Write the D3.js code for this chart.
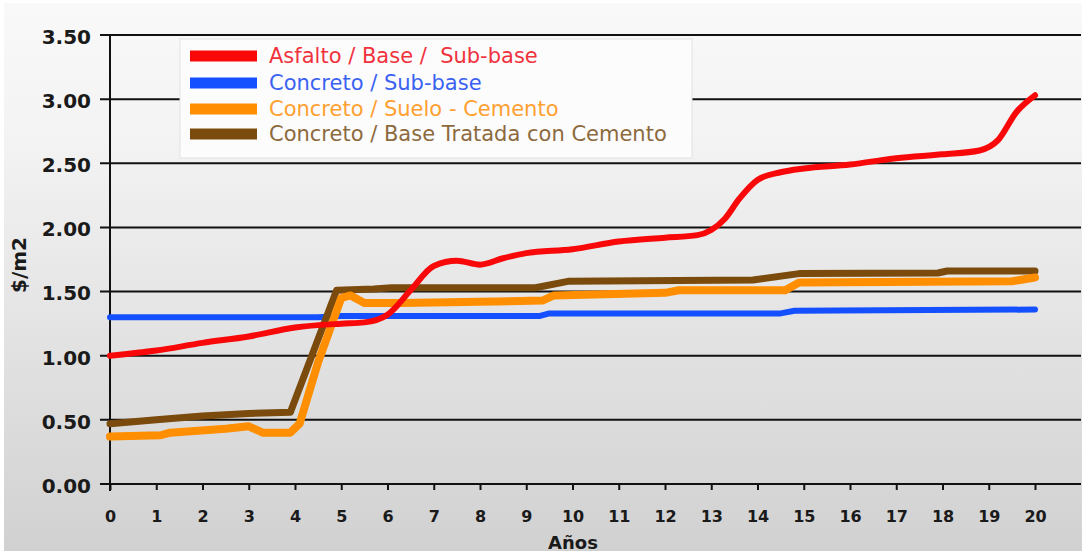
<!DOCTYPE html>
<html>
<head>
<meta charset="utf-8">
<script src="https://cdn.jsdelivr.net/npm/d3@7"></script>
<style>
  html, body { margin: 0; padding: 0; background: #ffffff; }
  svg { display: block; }
  text { font-family: "DejaVu Sans", Verdana, sans-serif; }
</style>
</head>
<body>
<script>
// ---------------- DATA ----------------
const yearTicks = d3.range(0, 21);
const valueTicks = [0, 0.5, 1.0, 1.5, 2.0, 2.5, 3.0, 3.5];

const seriesNames = [
  "Asfalto / Base /  Sub-base",
  "Concreto / Sub-base",
  "Concreto / Suelo - Cemento",
  "Concreto / Base Tratada con Cemento"
];

const asfaltoYears  = [0, 1, 2, 3, 4, 5, 5.5, 6, 6.5, 7, 7.5, 8, 8.5, 9, 10, 11, 12, 12.7, 13, 13.3, 13.6, 14, 14.5, 15, 16, 17, 18, 18.8, 19.2, 19.6, 20];
const asfaltoValues = [1.00, 1.04, 1.10, 1.15, 1.22, 1.25, 1.26, 1.32, 1.51, 1.70, 1.74, 1.71, 1.76, 1.80, 1.83, 1.89, 1.92, 1.94, 1.98, 2.07, 2.22, 2.37, 2.43, 2.46, 2.49, 2.54, 2.57, 2.60, 2.68, 2.90, 3.03];

const subbaseYears  = [0, 4.5, 5, 9.3, 9.5, 14.5, 14.8, 20];
const subbaseValues = [1.30, 1.30, 1.31, 1.31, 1.33, 1.33, 1.35, 1.36];

const sueloYears  = [0, 1.1, 1.3, 2.5, 3, 3.3, 3.9, 4.1, 4.5, 5.0, 5.2, 5.5, 6.3, 9.35, 9.6, 12, 12.3, 14.6, 14.9, 19.5, 20];
const sueloValues = [0.37, 0.38, 0.40, 0.43, 0.45, 0.40, 0.40, 0.47, 0.95, 1.45, 1.47, 1.41, 1.41, 1.43, 1.47, 1.49, 1.51, 1.51, 1.57, 1.58, 1.61];

const tratadaYears  = [0, 1, 2, 3, 3.9, 4.9, 5.7, 6.1, 9.2, 9.9, 13.9, 14.9, 17.9, 18.1, 20];
const tratadaValues = [0.47, 0.50, 0.53, 0.55, 0.56, 1.51, 1.52, 1.53, 1.53, 1.58, 1.59, 1.64, 1.645, 1.66, 1.66];

// ---------------- STYLE ----------------
const lineColors = ["#f80808", "#1450ff", "#ff8e00", "#7a4b0c"];
const textColors = ["#f0323c", "#3a62f2", "#ffa030", "#8c6a3e"];
const lineWidths = [6, 6, 8, 7];

const W = 1086, H = 554;
const svg = d3.select("body").append("svg").attr("width", W).attr("height", H);

const defs = svg.append("defs");
const grad = defs.append("linearGradient").attr("id", "bg").attr("x1", 0).attr("y1", 0).attr("x2", 0).attr("y2", 1);
grad.append("stop").attr("offset", "0%").attr("stop-color", "#faf9fa");
grad.append("stop").attr("offset", "25%").attr("stop-color", "#f3f3f3");
grad.append("stop").attr("offset", "100%").attr("stop-color", "#d1d1d1");

svg.append("rect").attr("x", 4).attr("y", 3).attr("width", W - 8).attr("height", H - 6).attr("fill", "url(#bg)");

const x = d3.scaleLinear().domain([0, 20]).range([110, 1035]);
const y = d3.scaleLinear().domain([0, 3.5]).range([484, 35]);
const gridRight = 1081;

// gridlines
svg.append("g").selectAll("line").data(valueTicks).join("line")
  .attr("x1", 100).attr("x2", gridRight)
  .attr("y1", d => y(d)).attr("y2", d => y(d))
  .attr("stroke", "#111").attr("stroke-width", 2);

// y axis
const yAxis = svg.append("g").attr("transform", "translate(110,0)")
  .call(d3.axisLeft(y).tickValues(valueTicks).tickFormat(d3.format(".2f")).tickSize(0).tickPadding(20));
yAxis.select(".domain").remove();
yAxis.selectAll("text").attr("font-size", 20).attr("font-weight", "bold").attr("fill", "#1a1a1a")
  .attr("dy", "0.42em").attr("x", -19);

svg.append("line").attr("x1", 110).attr("x2", 110).attr("y1", 35).attr("y2", 491)
  .attr("stroke", "#111").attr("stroke-width", 2);

// x axis
const xAxis = svg.append("g").attr("transform", "translate(0,484)")
  .call(d3.axisBottom(x).tickValues(yearTicks).tickFormat(d3.format("d")).tickSize(6).tickPadding(10));
xAxis.select(".domain").remove();
xAxis.selectAll(".tick line").attr("stroke", "#111").attr("stroke-width", 2);
xAxis.selectAll("text").attr("font-size", 16).attr("font-weight", "bold").attr("fill", "#1a1a1a")
  .attr("y", 38).attr("dy", 0);

// axis titles
svg.append("text").attr("x", 573).attr("y", 549).attr("text-anchor", "middle")
  .attr("font-size", 18).attr("font-weight", "bold").attr("fill", "#1a1a1a").text("Años");
svg.append("text").attr("transform", "translate(26,265) rotate(-90)").attr("text-anchor", "middle")
  .attr("font-size", 20).attr("font-weight", "bold").attr("fill", "#1a1a1a").text("$/m2");

// legend box
svg.append("rect").attr("x", 180).attr("y", 39).attr("width", 512).attr("height", 119)
  .attr("fill", "#fdfcfd").attr("stroke", "#e2e2e2").attr("stroke-width", 1);

// series
const series = [
  asfaltoYears.map((d, i) => [d, asfaltoValues[i]]),
  subbaseYears.map((d, i) => [d, subbaseValues[i]]),
  sueloYears.map((d, i) => [d, sueloValues[i]]),
  tratadaYears.map((d, i) => [d, tratadaValues[i]])
];
const curves = [d3.curveMonotoneX, d3.curveLinear, d3.curveLinear, d3.curveLinear];
const drawOrder = [1, 3, 2, 0];
drawOrder.forEach(i => {
  const line = d3.line().x(d => x(d[0])).y(d => y(d[1])).curve(curves[i]);
  svg.append("path").datum(series[i]).attr("d", line)
    .attr("fill", "none").attr("stroke", lineColors[i]).attr("stroke-width", lineWidths[i])
    .attr("stroke-linejoin", "round").attr("stroke-linecap", "round");
});

// legend entries
const legendY = [56, 83, 109, 134];
const lg = svg.append("g");
seriesNames.forEach((name, i) => {
  lg.append("rect").attr("x", 190).attr("y", legendY[i] - 5.5).attr("width", 67).attr("height", 11)
    .attr("fill", lineColors[i]);
  lg.append("text").attr("x", 269).attr("y", legendY[i] + 7)
    .attr("font-size", 21).attr("fill", textColors[i]).attr("xml:space", "preserve").style("white-space", "pre").text(name);
});
</script>
</body>
</html>
